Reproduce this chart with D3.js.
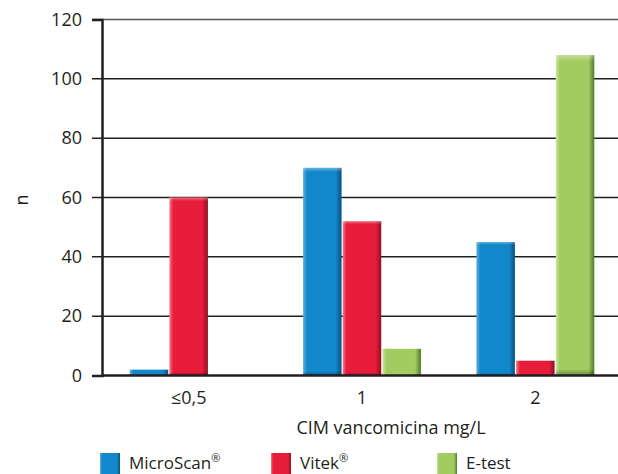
<!DOCTYPE html>
<html>
<head>
<meta charset="utf-8">
<script src="https://cdn.jsdelivr.net/npm/d3@7"></script>
<style>
  body { margin: 0; background: #fff; }
  text { font-family: "Open Sans", sans-serif; fill: #231f20; }
</style>
</head>
<body>
<div id="chart"></div>
<script>
var categories = ["≤0,5", "1", "2"];
var seriesNames = ["MicroScan", "Vitek", "E-test"];
var microscan = [2, 70, 45];
var vitek = [60, 52, 5];
var etest = [0, 9, 108];
var yTicks = [0, 20, 40, 60, 80, 100, 120];

var colors = {
  "MicroScan": {base: "#1188cc", light: "#5fb0e2", dark: "#0a4f80"},
  "Vitek": {base: "#e81d3b", light: "#f47a82", dark: "#8e1020"},
  "E-test": {base: "#a2cc60", light: "#cfe6a6", dark: "#4f7a2c"}
};

var data = categories.map(function(c, i) {
  return {cat: c, values: [
    {key: "MicroScan", value: microscan[i]},
    {key: "Vitek", value: vitek[i]},
    {key: "E-test", value: etest[i]}
  ]};
});

var W = 618, H = 474;
var margin = {top: 19.5, left: 102, bottom: 98.5};

var svg = d3.select("#chart").append("svg")
  .attr("width", W).attr("height", H);

var defs = svg.append("defs");
seriesNames.forEach(function(s, i) {
  var c = colors[s];
  var g = defs.append("linearGradient").attr("id", "h" + i)
    .attr("x1", 0).attr("x2", 1).attr("y1", 0).attr("y2", 0);
  g.append("stop").attr("offset", "0").attr("stop-color", c.light);
  g.append("stop").attr("offset", "0.1").attr("stop-color", c.base);
  g.append("stop").attr("offset", "0.85").attr("stop-color", c.base);
  g.append("stop").attr("offset", "1").attr("stop-color", c.dark);
});
var vg = defs.append("linearGradient").attr("id", "vshade")
  .attr("x1", 0).attr("x2", 0).attr("y1", 0).attr("y2", 1);
vg.append("stop").attr("offset", "0").attr("stop-color", "#fff").attr("stop-opacity", 0.35);
vg.append("stop").attr("offset", "0.02").attr("stop-color", "#fff").attr("stop-opacity", 0);
vg.append("stop").attr("offset", "0.98").attr("stop-color", "#000").attr("stop-opacity", 0);
vg.append("stop").attr("offset", "1").attr("stop-color", "#000").attr("stop-opacity", 0.35);

var y = d3.scaleLinear().domain([0, 120]).range([H - margin.bottom, margin.top]);
var x0 = d3.scaleBand().domain(categories).range([margin.left, 622])
  .paddingInner(0.32).paddingOuter(0.16);
var x1 = d3.scaleBand().domain(seriesNames).range([0, x0.bandwidth()]).paddingInner(0.03);

// gridlines
svg.append("g").selectAll("line").data(yTicks.slice(1)).join("line")
  .attr("x1", margin.left - 10).attr("x2", W)
  .attr("y1", function(d) { return y(d); }).attr("y2", function(d) { return y(d); })
  .attr("stroke", function(d) { return d === 120 ? "#555" : "#231f20"; })
  .attr("stroke-width", 1.5);

// bars
var groups = svg.append("g").selectAll("g").data(data).join("g")
  .attr("transform", function(d) { return "translate(" + x0(d.cat) + ",0)"; });
var bars = groups.selectAll("g").data(function(d) { return d.values.filter(function(v) { return v.value > 0; }); })
  .join("g");
bars.append("rect")
  .attr("x", function(d) { return x1(d.key); })
  .attr("width", x1.bandwidth())
  .attr("y", function(d) { return y(d.value); })
  .attr("height", function(d) { return y(0) - y(d.value); })
  .attr("fill", function(d) { return "url(#h" + seriesNames.indexOf(d.key) + ")"; });
bars.append("rect")
  .attr("x", function(d) { return x1(d.key); })
  .attr("width", x1.bandwidth())
  .attr("y", function(d) { return y(d.value); })
  .attr("height", function(d) { return y(0) - y(d.value); })
  .attr("fill", "url(#vshade)");

// axes
var yAxis = svg.append("g").attr("transform", "translate(" + margin.left + ",0)")
  .call(d3.axisLeft(y).tickValues(yTicks).tickSize(10).tickPadding(10));
yAxis.select(".domain").attr("stroke", "#231f20").attr("stroke-width", 2.5);
yAxis.selectAll(".tick line").remove();
yAxis.selectAll("text").style("font-size", "18px").attr("fill", "#231f20");

var xAxis = svg.append("g").attr("transform", "translate(0," + y(0) + ")")
  .call(d3.axisBottom(x0).tickSize(0).tickPadding(16));
xAxis.select(".domain").attr("d", "M" + margin.left + ",0H" + W)
  .attr("stroke", "#231f20").attr("stroke-width", 2.5);
xAxis.selectAll("text").style("font-size", "18px").attr("fill", "#231f20");

svg.append("text").attr("x", 391).attr("y", 434)
  .attr("text-anchor", "middle").style("font-size", "18px")
  .text("CIM vancomicina mg/L");

svg.append("text").attr("transform", "translate(28,200) rotate(-90)")
  .attr("text-anchor", "middle").style("font-size", "18px").text("n");

// legend
var legX = [100, 271, 437];
var leg = svg.append("g").selectAll("g").data(seriesNames).join("g")
  .attr("transform", function(d, i) { return "translate(" + legX[i] + ",453)"; });
leg.append("rect").attr("width", 20).attr("height", 21)
  .attr("fill", function(d, i) { return "url(#h" + i + ")"; });
leg.append("rect").attr("width", 20).attr("height", 21).attr("fill", "url(#vshade)");
var lt = leg.append("text").attr("x", 29).attr("y", 16).style("font-size", "17px");
lt.append("tspan").text(function(d) { return d; });
lt.filter(function(d) { return d !== "E-test"; }).append("tspan")
  .attr("dy", -7).style("font-size", "11px").text("®");
</script>
</body>
</html>
